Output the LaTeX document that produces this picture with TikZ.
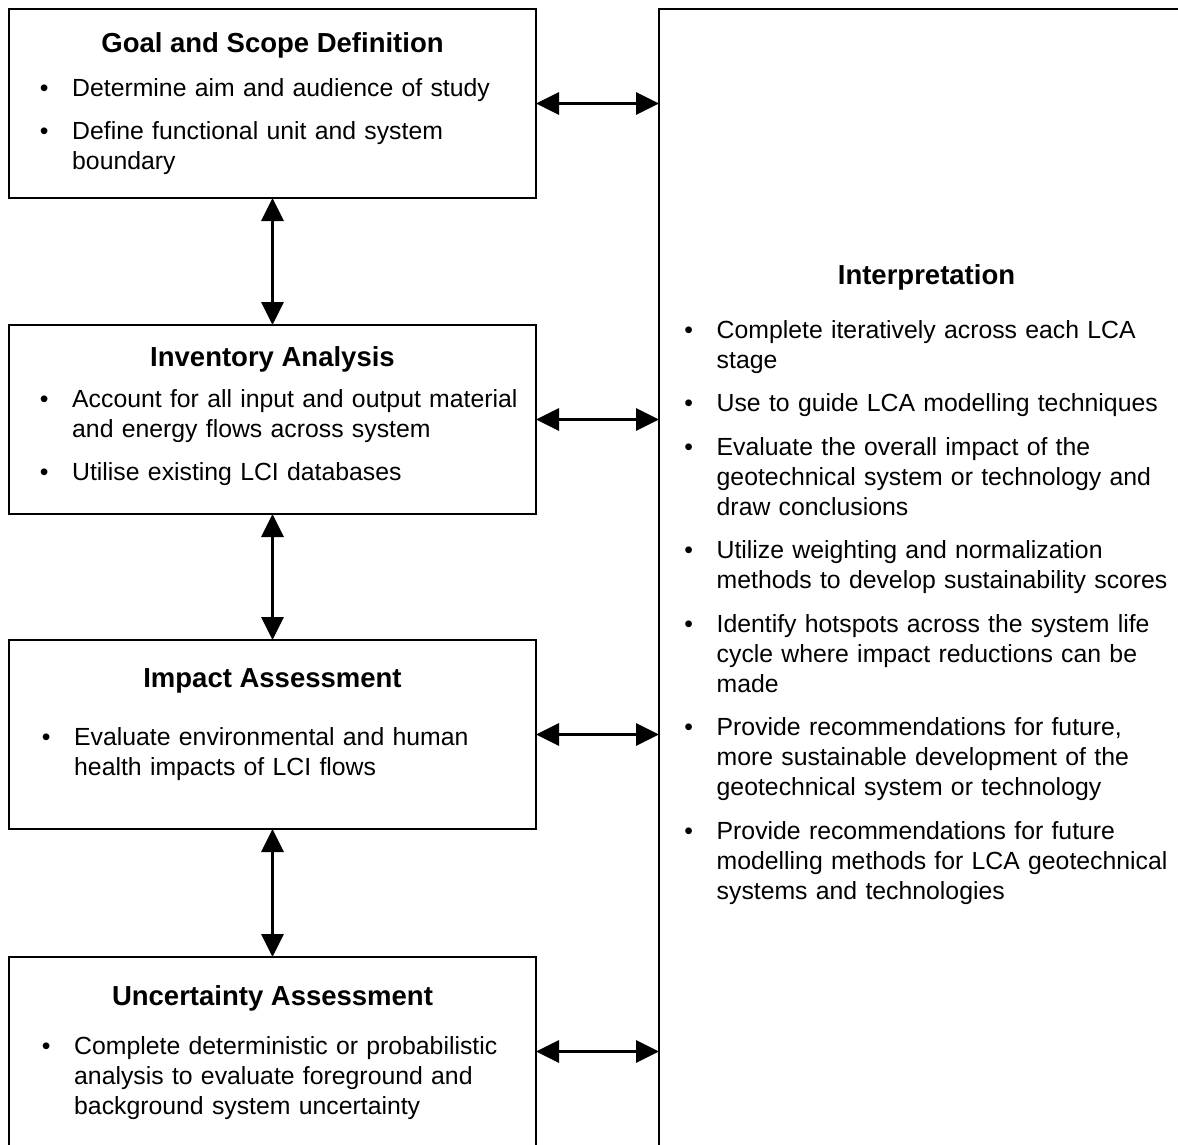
\documentclass[tikz,border=0pt]{standalone}
\usepackage{fontspec}
\setmainfont{Liberation Sans}
\usepackage{tikz}
\usetikzlibrary{positioning,arrows.meta}
% first bullet of a list, then the next ones
\newcommand{\lcafirst}{\hangindent=28pt\hangafter=1\parskip=13.5pt%
  \hbox to 28pt{\hbox to 0pt{\hss\textbullet\hss}\hss}}
\newcommand{\lcaitem}{\par\noindent\lcafirst}
\tikzset{
  stagebox/.style={draw, line width=2pt, minimum width=527pt, minimum height=189pt, outer sep=0pt, inner sep=0pt},
  headline/.style={anchor=base, inner sep=0pt, font=\fontsize{27.5}{32}\selectfont\bfseries},
  bullets/.style={anchor=base west, inner sep=0pt, text width=#1, align=left, font=\fontsize{24.8}{30}\selectfont},
  bullets/.default=520pt,
  twoway/.style={{Triangle[length=23pt,width=22pt]}-{Triangle[length=23pt,width=22pt]}, line width=3pt},
}
\begin{document}
\begin{tikzpicture}[x=1pt, y=-1pt]
  \useasboundingbox (0,0) rectangle (1178,1144);
  \clip (0,0) rectangle (1178,1144);

  % stages on the left
  \node[stagebox, anchor=north west] (goal) at (9,9) {};
  \node[stagebox, below=127pt of goal] (inventory) {};
  \node[stagebox, below=126pt of inventory] (impact) {};
  \node[stagebox, below=128pt of impact] (uncert) {};
  % interpretation on the right
  \node[stagebox, anchor=north west, minimum width=535pt, minimum height=1160pt] (interp) at (659,9) {};

  \node[headline] (goaltitle) at ([yshift=-43pt]goal.north) {Goal and Scope Definition};
  \node[bullets] (goallist) at ([xshift=35pt,yshift=-87pt]goal.north west)
    {\lcafirst Determine aim and audience of study
     \lcaitem Define functional unit and system\newline boundary\par};

  \node[headline] (invtitle) at ([yshift=-41pt]inventory.north) {Inventory Analysis};
  \node[bullets] (invlist) at ([xshift=35pt,yshift=-82pt]inventory.north west)
    {\lcafirst Account for all input and output material\newline and energy flows across system
     \lcaitem Utilise existing LCI databases\par};

  \node[headline] (imptitle) at ([yshift=-47pt]impact.north) {Impact Assessment};
  \node[bullets] (implist) at ([xshift=37pt,yshift=-105pt]impact.north west)
    {\lcafirst Evaluate environmental and human\newline health impacts of LCI flows\par};

  \node[headline] (unctitle) at ([yshift=-48pt]uncert.north) {Uncertainty Assessment};
  \node[bullets] (unclist) at ([xshift=37pt,yshift=-97pt]uncert.north west)
    {\lcafirst Complete deterministic or probabilistic\newline analysis to evaluate foreground and\newline background system uncertainty\par};

  \node[headline] (inttitle) at ([yshift=-275pt]interp.north) {Interpretation};
  \node[bullets=540pt] (intlist) at ([xshift=29.5pt,yshift=-329pt]interp.north west)
    {\lcafirst Complete iteratively across each LCA\newline stage
     \lcaitem Use to guide LCA modelling techniques
     \lcaitem Evaluate the overall impact of the\newline geotechnical system or technology and\newline draw conclusions
     \lcaitem Utilize weighting and normalization\newline methods to develop sustainability scores
     \lcaitem Identify hotspots across the system life\newline cycle where impact reductions can be\newline made
     \lcaitem Provide recommendations for future,\newline more sustainable development of the\newline geotechnical system or technology
     \lcaitem Provide recommendations for future\newline modelling methods for LCA geotechnical\newline systems and technologies\par};

  % links
  \draw[twoway] (goal.south) -- (inventory.north);
  \draw[twoway] (inventory.south) -- (impact.north);
  \draw[twoway] (impact.south) -- (uncert.north);
  \draw[twoway] (goal.east) -- (goal.east -| interp.west);
  \draw[twoway] (inventory.east) -- (inventory.east -| interp.west);
  \draw[twoway] (impact.east) -- (impact.east -| interp.west);
  \draw[twoway] (uncert.east) -- (uncert.east -| interp.west);
\end{tikzpicture}
\end{document}
